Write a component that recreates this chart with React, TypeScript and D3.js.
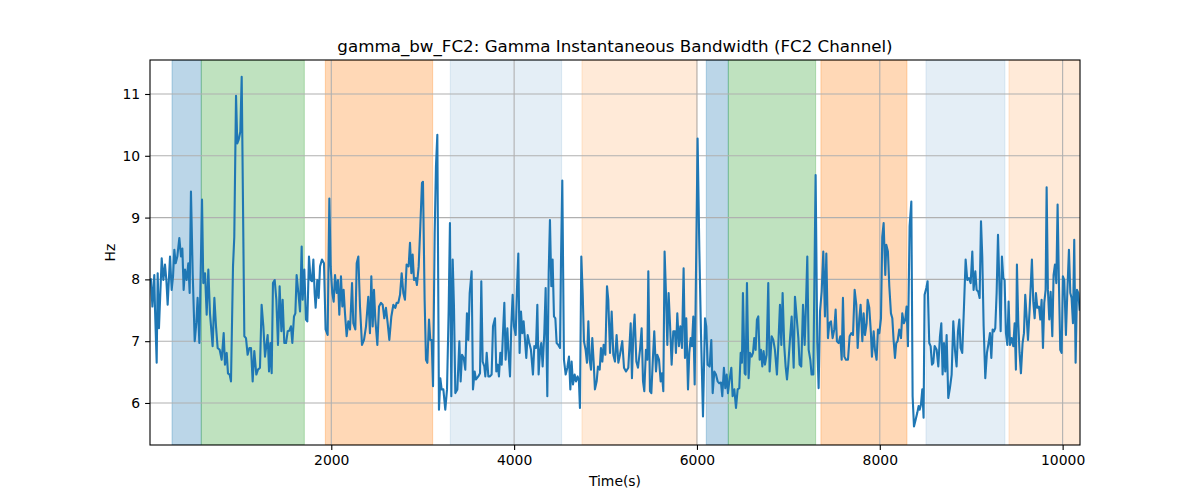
import * as d3 from 'd3';
import { useEffect, useRef } from 'react';

// axis ranges and ticks
const xDomain: [number, number] = [17, 10190];
const yDomain: [number, number] = [5.32, 11.55];
const xTicks = [2000, 4000, 6000, 8000, 10000];
const yTicks = [6, 7, 8, 9, 10, 11];

// shaded intervals (seconds)
const spanStart = [258, 578, 1935, 3302, 4742, 6102, 6343, 7356, 8505, 9413];
const spanEnd = [578, 1705, 3109, 4520, 6000, 6343, 7298, 8297, 9369, 10300];
const spanKind = ['A', 'B', 'C', 'D', 'E', 'A', 'B', 'C', 'D', 'E'];

// [time (s), bandwidth (Hz)]
const gammaBw: [number, number][] = [
  [28, 8.0], [43, 7.56], [64, 8.07], [72, 7.51], [90, 6.65], [101, 8.1], [115, 7.21], [130, 7.78],
  [145, 8.34], [163, 7.99], [181, 8.24], [196, 7.99], [210, 7.59], [236, 8.37], [254, 7.83], [269, 8.05],
  [283, 8.48], [298, 8.26], [316, 8.37], [338, 8.67], [356, 8.37], [371, 8.5], [385, 7.83], [400, 8.16],
  [418, 7.99], [436, 8.26], [451, 7.78], [465, 9.42], [484, 8.1], [506, 7.0], [524, 7.3], [538, 7.7],
  [557, 6.97], [586, 9.29], [600, 7.94], [619, 8.1], [637, 7.43], [655, 8.16], [673, 7.45], [702, 6.92],
  [721, 7.7], [739, 7.24], [757, 6.89], [779, 6.86], [801, 6.7], [823, 7.13], [837, 6.62], [856, 6.81],
  [870, 6.48], [888, 6.46], [903, 6.35], [925, 8.21], [939, 8.69], [958, 10.97], [972, 10.2], [987, 10.26],
  [1005, 10.39], [1020, 11.28], [1049, 7.08], [1067, 7.05], [1085, 6.78], [1104, 6.89], [1122, 6.89], [1140, 6.35],
  [1158, 6.84], [1180, 6.46], [1198, 6.54], [1220, 6.57], [1238, 7.59], [1257, 7.24], [1275, 6.75], [1289, 6.92],
  [1304, 7.1], [1319, 6.51], [1333, 6.97], [1348, 6.48], [1362, 7.94], [1381, 7.99], [1399, 7.67], [1417, 6.94],
  [1435, 7.89], [1454, 7.16], [1468, 7.67], [1486, 6.97], [1505, 6.97], [1523, 7.16], [1541, 7.17], [1559, 7.24],
  [1574, 6.97], [1592, 7.4], [1607, 7.45], [1621, 8.07], [1640, 7.78], [1658, 7.48], [1676, 8.53], [1687, 7.67],
  [1705, 8.16], [1723, 7.35], [1738, 7.32], [1756, 8.37], [1774, 7.99], [1789, 7.97], [1804, 8.32], [1818, 7.78],
  [1829, 7.54], [1847, 7.99], [1862, 7.7], [1877, 8.21], [1898, 8.32], [1920, 8.26], [1938, 7.19], [1960, 7.1],
  [1979, 9.31], [1993, 8.21], [2011, 7.78], [2026, 7.64], [2041, 8.07], [2059, 7.78], [2073, 7.99], [2088, 7.43],
  [2106, 8.05], [2121, 7.56], [2135, 7.83], [2150, 7.45], [2168, 7.08], [2186, 7.32], [2205, 7.19], [2227, 7.94],
  [2241, 7.29], [2263, 7.19], [2278, 8.26], [2296, 8.37], [2314, 7.56], [2336, 6.94], [2358, 7.02], [2380, 7.24],
  [2405, 7.72], [2423, 7.13], [2438, 8.05], [2453, 7.24], [2467, 7.83], [2482, 7.35], [2504, 6.94], [2522, 7.56],
  [2544, 7.62], [2562, 7.59], [2580, 7.37], [2598, 7.54], [2617, 7.29], [2635, 7.02], [2657, 7.4], [2679, 7.59],
  [2701, 7.54], [2715, 7.62], [2733, 7.62], [2752, 7.75], [2770, 8.1], [2788, 7.78], [2806, 7.67], [2824, 8.24],
  [2846, 8.21], [2861, 8.59], [2876, 8.1], [2890, 8.4], [2905, 7.99], [2923, 8.02], [2937, 7.91], [2956, 8.21],
  [2974, 8.86], [2992, 9.56], [3003, 9.58], [3021, 7.67], [3036, 6.7], [3051, 6.65], [3069, 7.35], [3083, 7.02],
  [3098, 7.02], [3113, 6.27], [3131, 8.75], [3145, 9.83], [3160, 10.34], [3178, 5.89], [3193, 6.4], [3207, 6.22],
  [3226, 6.22], [3247, 5.89], [3266, 6.22], [3284, 7.51], [3298, 8.91], [3313, 6.11], [3328, 8.32], [3342, 7.56],
  [3357, 6.16], [3379, 6.22], [3401, 7.0], [3415, 6.35], [3430, 6.78], [3448, 6.73], [3466, 6.54], [3484, 7.45],
  [3499, 7.02], [3514, 7.78], [3535, 8.13], [3550, 6.22], [3568, 6.51], [3583, 6.38], [3608, 6.43], [3627, 6.48],
  [3641, 7.97], [3656, 6.67], [3674, 6.59], [3685, 6.43], [3700, 6.81], [3718, 6.43], [3736, 6.43], [3754, 6.46],
  [3769, 7.24], [3791, 7.37], [3805, 6.51], [3820, 6.62], [3834, 6.43], [3849, 6.81], [3864, 6.62], [3878, 7.13],
  [3893, 7.62], [3907, 6.7], [3926, 7.21], [3937, 6.86], [3955, 6.43], [3969, 7.24], [3984, 7.75], [3998, 7.24],
  [4017, 7.1], [4031, 7.83], [4046, 8.42], [4060, 6.81], [4075, 7.48], [4090, 7.13], [4104, 7.32], [4119, 7.02],
  [4133, 6.73], [4148, 7.1], [4166, 6.97], [4184, 6.86], [4206, 6.46], [4221, 6.92], [4239, 6.89], [4254, 7.59],
  [4268, 6.46], [4283, 6.84], [4297, 6.97], [4312, 6.59], [4330, 7.13], [4345, 7.86], [4363, 6.11], [4378, 8.1],
  [4392, 8.96], [4407, 7.89], [4421, 8.32], [4436, 7.4], [4451, 7.37], [4465, 6.97], [4483, 6.94], [4502, 6.89],
  [4513, 8.32], [4527, 9.6], [4545, 6.7], [4564, 6.46], [4582, 6.57], [4600, 6.75], [4615, 6.22], [4629, 6.67],
  [4644, 6.3], [4662, 6.46], [4677, 6.35], [4695, 6.43], [4709, 6.35], [4720, 5.92], [4735, 8.37], [4750, 7.78],
  [4764, 7.0], [4782, 6.86], [4797, 6.65], [4812, 7.32], [4826, 6.7], [4841, 6.54], [4855, 7.05], [4870, 6.67],
  [4884, 6.22], [4903, 6.35], [4917, 6.59], [4936, 6.54], [4950, 6.89], [4965, 6.67], [4979, 6.94], [4998, 6.78],
  [5016, 7.89], [5030, 7.67], [5049, 6.81], [5067, 7.48], [5085, 6.78], [5103, 6.67], [5121, 7.1], [5140, 6.65],
  [5158, 6.78], [5183, 7.0], [5202, 6.57], [5224, 6.51], [5249, 6.57], [5275, 7.29], [5289, 6.4], [5304, 7.13],
  [5318, 7.43], [5337, 6.67], [5355, 6.57], [5377, 6.86], [5395, 7.21], [5410, 6.35], [5424, 6.19], [5442, 6.86],
  [5457, 6.7], [5468, 8.13], [5486, 6.19], [5501, 6.16], [5519, 6.75], [5533, 7.16], [5552, 6.51], [5566, 6.78],
  [5585, 6.7], [5603, 6.35], [5617, 6.48], [5632, 6.19], [5646, 8.45], [5661, 7.78], [5676, 6.94], [5690, 7.78],
  [5705, 7.29], [5723, 6.62], [5741, 7.16], [5760, 7.16], [5770, 6.81], [5785, 7.45], [5803, 6.92], [5818, 7.24],
  [5836, 6.89], [5854, 8.18], [5869, 6.73], [5883, 7.37], [5902, 6.22], [5916, 6.81], [5931, 7.05], [5945, 6.92],
  [5960, 7.4], [5975, 6.3], [5989, 8.05], [6007, 10.28], [6026, 8.48], [6044, 7.13], [6066, 5.78], [6088, 7.37],
  [6102, 7.24], [6117, 6.62], [6139, 6.59], [6157, 7.02], [6172, 6.16], [6190, 6.51], [6208, 6.46], [6226, 6.35],
  [6244, 6.32], [6263, 6.33], [6277, 6.11], [6295, 6.57], [6310, 6.24], [6325, 6.46], [6339, 6.16], [6354, 6.35],
  [6376, 6.57], [6390, 6.11], [6409, 6.22], [6427, 5.92], [6445, 6.22], [6463, 6.24], [6478, 6.81], [6492, 6.65],
  [6503, 7.78], [6522, 6.48], [6532, 6.46], [6547, 7.94], [6565, 6.4], [6580, 6.81], [6598, 6.75], [6613, 6.81],
  [6627, 7.05], [6642, 6.86], [6656, 7.35], [6671, 7.4], [6686, 6.7], [6700, 6.86], [6715, 6.59], [6729, 6.84],
  [6744, 6.62], [6762, 6.78], [6780, 7.94], [6795, 6.51], [6817, 7.08], [6835, 7.02], [6853, 6.86], [6875, 6.46],
  [6890, 6.94], [6908, 7.59], [6923, 6.94], [6937, 7.78], [6955, 6.92], [6970, 6.59], [6985, 6.38], [6999, 6.62],
  [7017, 7.02], [7036, 7.4], [7058, 6.57], [7072, 7.72], [7090, 7.4], [7109, 7.05], [7123, 6.62], [7141, 6.59],
  [7160, 7.59], [7178, 6.94], [7192, 7.56], [7207, 8.37], [7222, 6.86], [7240, 6.7], [7254, 6.46], [7273, 6.46],
  [7298, 9.69], [7316, 6.97], [7331, 6.24], [7346, 7.48], [7364, 7.8], [7382, 8.45], [7400, 7.4], [7415, 8.42],
  [7433, 7.05], [7448, 7.29], [7466, 7.32], [7484, 7.05], [7502, 7.19], [7517, 7.51], [7531, 7.0], [7550, 6.97],
  [7568, 7.08], [7583, 6.7], [7597, 7.7], [7612, 6.75], [7630, 6.7], [7652, 6.7], [7670, 7.08], [7688, 7.13],
  [7707, 7.1], [7725, 7.83], [7743, 7.59], [7758, 6.89], [7776, 7.37], [7790, 7.59], [7809, 7.0], [7823, 7.45],
  [7838, 7.1], [7856, 7.29], [7867, 7.67], [7885, 7.54], [7903, 7.13], [7914, 6.75], [7933, 7.16], [7947, 6.86],
  [7965, 6.7], [7980, 7.19], [7995, 7.13], [8013, 7.37], [8027, 8.69], [8042, 8.91], [8060, 8.07], [8071, 8.56],
  [8089, 8.45], [8104, 7.89], [8122, 7.45], [8137, 7.37], [8151, 7.02], [8166, 6.73], [8180, 6.97], [8195, 7.0],
  [8213, 7.19], [8232, 7.05], [8246, 7.45], [8264, 7.29], [8279, 7.35], [8293, 7.56], [8308, 6.92], [8326, 8.86],
  [8345, 9.26], [8359, 6.11], [8374, 5.62], [8392, 5.73], [8410, 5.84], [8425, 5.95], [8436, 5.89], [8450, 5.97],
  [8465, 6.22], [8479, 5.76], [8490, 7.75], [8509, 7.86], [8523, 7.97], [8541, 6.97], [8556, 6.92], [8571, 6.62],
  [8585, 6.65], [8600, 6.92], [8622, 6.86], [8640, 6.59], [8658, 7.08], [8673, 7.29], [8687, 6.46], [8702, 6.97],
  [8716, 6.51], [8731, 7.1], [8749, 6.08], [8767, 6.24], [8786, 6.46], [8804, 7.32], [8822, 6.86], [8840, 6.59],
  [8855, 7.16], [8870, 7.35], [8884, 6.89], [8902, 6.81], [8921, 7.56], [8939, 8.32], [8957, 7.99], [8975, 8.02],
  [8994, 7.94], [9012, 8.45], [9026, 7.83], [9045, 8.13], [9059, 7.83], [9077, 7.8], [9092, 7.7], [9107, 8.94],
  [9121, 8.37], [9136, 7.24], [9154, 6.4], [9172, 6.81], [9190, 6.97], [9205, 7.13], [9220, 6.73], [9234, 7.19],
  [9249, 7.16], [9263, 7.21], [9278, 7.78], [9293, 8.72], [9307, 7.99], [9322, 7.16], [9336, 8.37], [9351, 8.02],
  [9365, 7.99], [9380, 7.13], [9395, 6.94], [9409, 7.64], [9424, 6.94], [9442, 7.05], [9460, 6.92], [9475, 7.29],
  [9489, 6.54], [9500, 8.24], [9515, 7.29], [9529, 6.81], [9544, 6.48], [9562, 6.97], [9577, 7.13], [9591, 7.75],
  [9606, 7.4], [9621, 7.02], [9639, 7.51], [9664, 8.32], [9679, 7.64], [9694, 7.37], [9708, 7.78], [9723, 7.54],
  [9741, 7.56], [9756, 7.35], [9770, 7.67], [9785, 6.89], [9799, 7.62], [9814, 7.83], [9825, 9.49], [9839, 7.83],
  [9854, 7.35], [9869, 7.8], [9887, 7.08], [9901, 8.07], [9916, 8.24], [9931, 7.94], [9945, 9.21], [9960, 7.89],
  [9974, 6.86], [9989, 6.81], [10003, 8.05], [10018, 7.99], [10036, 7.1], [10051, 7.78], [10069, 8.48], [10084, 7.78],
  [10098, 7.7], [10113, 7.29], [10127, 8.64], [10142, 6.65], [10157, 7.83], [10171, 7.78], [10186, 7.51],
];

// fill colour / opacity for each kind of interval
const spanStyle: Record<string, { color: string; opacity: number }> = {
  A: { color: '#1f77b4', opacity: 0.3 },
  B: { color: '#2ca02c', opacity: 0.3 },
  C: { color: '#ff7f0e', opacity: 0.3 },
  D: { color: '#1f77b4', opacity: 0.12 },
  E: { color: '#ff7f0e', opacity: 0.16 },
};

const W = 1200;
const H = 500;
const FONT = '"DejaVu Sans", sans-serif';

export default function App() {
  const ref = useRef<SVGSVGElement>(null);

  useEffect(() => {
    if (!ref.current) return;
    const margin = { top: 60, right: 120, bottom: 55, left: 150 },
      width = W - margin.left - margin.right,
      height = H - margin.top - margin.bottom;

    const root = d3.select(ref.current);
    root.selectAll('*').remove();

    root
      .append('defs')
      .append('clipPath')
      .attr('id', 'plot-clip')
      .append('rect')
      .attr('width', width)
      .attr('height', height);

    const svg = root.append('g').attr('transform', `translate(${margin.left},${margin.top})`);

    const x = d3.scaleLinear().domain(xDomain).range([0, width]);
    const y = d3.scaleLinear().domain(yDomain).range([height, 0]);

    // shaded intervals
    const spans = d3.range(spanStart.length).map((i) => ({
      s: spanStart[i],
      e: spanEnd[i],
      k: spanKind[i],
    }));
    svg
      .append('g')
      .attr('clip-path', 'url(#plot-clip)')
      .selectAll('rect')
      .data(spans)
      .join('rect')
      .attr('x', (d) => x(d.s))
      .attr('width', (d) => x(d.e) - x(d.s))
      .attr('y', 0)
      .attr('height', height)
      .attr('fill', (d) => spanStyle[d.k].color)
      .attr('fill-opacity', (d) => spanStyle[d.k].opacity)
      .attr('stroke', (d) => spanStyle[d.k].color)
      .attr('stroke-opacity', (d) => spanStyle[d.k].opacity)
      .attr('stroke-width', 1);

    // grid
    const grid = svg.append('g').attr('stroke', '#b0b0b0').attr('stroke-width', 1.1);
    grid
      .selectAll('line.gx')
      .data(xTicks)
      .join('line')
      .attr('x1', (d) => x(d))
      .attr('x2', (d) => x(d))
      .attr('y1', 0)
      .attr('y2', height);
    grid
      .selectAll('line.gy')
      .data(yTicks)
      .join('line')
      .attr('class', 'gy')
      .attr('x1', 0)
      .attr('x2', width)
      .attr('y1', (d) => y(d))
      .attr('y2', (d) => y(d));

    // series
    const line = d3
      .line<[number, number]>()
      .x((d) => x(d[0]))
      .y((d) => y(d[1]));
    svg
      .append('path')
      .datum(gammaBw)
      .attr('clip-path', 'url(#plot-clip)')
      .attr('d', line)
      .attr('fill', 'none')
      .attr('stroke', '#1f77b4')
      .attr('stroke-width', 2.1)
      .attr('stroke-linejoin', 'round')
      .attr('stroke-linecap', 'square');

    // axes
    const xAxis = d3.axisBottom(x).tickValues(xTicks).tickSize(4.9).tickPadding(4.9).tickFormat(d3.format('d'));
    const yAxis = d3.axisLeft(y).tickValues(yTicks).tickSize(4.9).tickPadding(4.9).tickFormat(d3.format('d'));
    const gx = svg.append('g').attr('transform', `translate(0,${height})`).call(xAxis);
    const gy = svg.append('g').call(yAxis);
    [gx, gy].forEach((g) => {
      g.select('.domain').remove();
      g.selectAll('line').attr('stroke', '#000').attr('stroke-width', 1.1);
      g.selectAll('text').attr('fill', '#000').style('font-family', FONT).style('font-size', '13.9px');
    });

    // frame
    svg
      .append('rect')
      .attr('width', width)
      .attr('height', height)
      .attr('fill', 'none')
      .attr('stroke', '#000')
      .attr('stroke-width', 1.1);

    svg
      .append('text')
      .text('gamma_bw_FC2: Gamma Instantaneous Bandwidth (FC2 Channel)')
      .attr('x', width / 2)
      .attr('y', -8.3)
      .attr('text-anchor', 'middle')
      .style('font-family', FONT)
      .style('font-size', '16.7px');

    svg
      .append('text')
      .text('Time(s)')
      .attr('x', width / 2)
      .attr('y', height + 41)
      .attr('text-anchor', 'middle')
      .style('font-family', FONT)
      .style('font-size', '13.9px');

    svg
      .append('text')
      .text('Hz')
      .attr('transform', `translate(${-35},${height / 2}) rotate(-90)`)
      .attr('text-anchor', 'middle')
      .style('font-family', FONT)
      .style('font-size', '13.9px');
  }, []);

  return (
    <div style={{ position: 'absolute', left: 0, top: 0, background: '#fff' }}>
      <svg ref={ref} width={W} height={H} />
    </div>
  );
}
